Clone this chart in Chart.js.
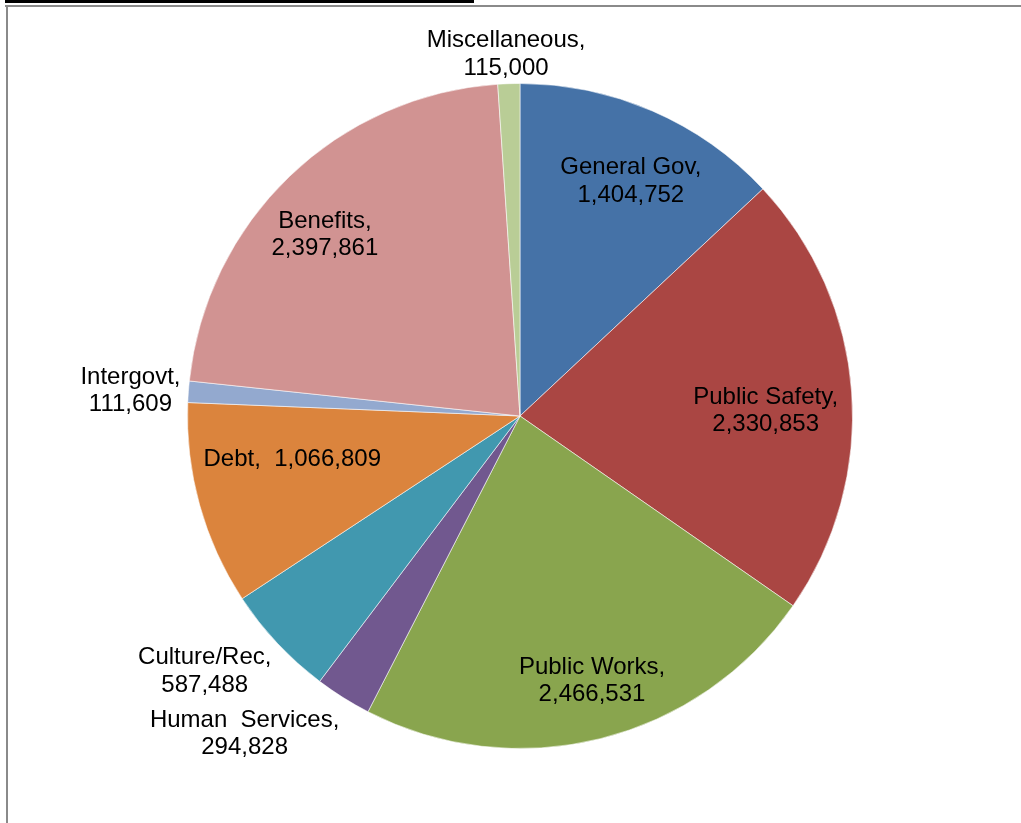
<!DOCTYPE html>
<html>
<head>
<meta charset="utf-8">
<script src="https://cdn.jsdelivr.net/npm/chart.js@4/dist/chart.umd.min.js"></script>
<style>
  html, body { margin: 0; padding: 0; background: #fff; }
  #wrap { position: relative; width: 1021px; height: 823px; overflow: hidden; }
  #topbar { position: absolute; left: 5px; top: 0; width: 469px; height: 3px; background: #000; }
  #frameTop { position: absolute; left: 5px; top: 5px; width: 1016px; height: 2px; background: #8a8a8a; }
  #frameLeft { position: absolute; left: 6px; top: 5px; width: 2px; height: 818px; background: #8a8a8a; }
  canvas { position: absolute; left: 0; top: 0; }
</style>
</head>
<body>
<div id="wrap">
  <canvas id="c" width="1021" height="823"></canvas>
  <div id="topbar"></div>
  <div id="frameTop"></div>
  <div id="frameLeft"></div>
</div>
<script>
// ---- data ----
const categories = ["General Gov", "Public Safety", "Public Works", "Human Services",
                    "Culture/Rec", "Debt", "Intergovt", "Benefits", "Miscellaneous"];
const values = [1404752, 2330853, 2466531, 294828, 587488, 1066809, 111609, 2397861, 115000];
const labelLines = [
  ["General Gov,", "1,404,752"],
  ["Public Safety,", "2,330,853"],
  ["Public Works,", "2,466,531"],
  ["Human  Services,", "294,828"],
  ["Culture/Rec,", "587,488"],
  ["Debt,  1,066,809"],
  ["Intergovt,", "111,609"],
  ["Benefits,", "2,397,861"],
  ["Miscellaneous,", "115,000"]
];

// ---- style / layout ----
const colors = ["#4572A7", "#AA4643", "#89A54E", "#71588F", "#4198AF",
                "#DB843D", "#93A9CF", "#D19392", "#B9CD96"];
// label placement: angle (deg, clockwise from 12 o'clock) and distance as fraction of radius
const labelAngle = [25.3, 88.8, 164.8, 220.9, 231.0, 259.3, 273.7, 312.9, 357.8];
const labelRadius = [0.78, 0.739, 0.826, 1.265, 1.220, 0.697, 1.174, 0.801, 1.089];

const labelPlugin = {
  id: 'sliceLabels',
  afterDatasetsDraw(chart) {
    const ctx = chart.ctx;
    const meta = chart.getDatasetMeta(0);
    ctx.save();
    ctx.font = '24px "Liberation Sans", Arial, sans-serif';
    ctx.fillStyle = '#000';
    ctx.textAlign = 'center';
    ctx.textBaseline = 'middle';
    const lh = 27.5;
    meta.data.forEach((arc, i) => {
      const th = labelAngle[i] * Math.PI / 180;
      const r = arc.outerRadius * labelRadius[i];
      const x = arc.x + r * Math.sin(th);
      const y = arc.y - r * Math.cos(th);
      const lines = labelLines[i];
      const y0 = y - (lines.length - 1) * lh / 2;
      lines.forEach((t, k) => ctx.fillText(t, x, y0 + k * lh));
    });
    ctx.restore();
  }
};

new Chart(document.getElementById('c'), {
  type: 'pie',
  data: {
    labels: categories,
    datasets: [{
      data: values,
      backgroundColor: colors,
      borderColor: 'rgba(255,255,255,0.55)',
      borderWidth: 1
    }]
  },
  options: {
    responsive: false,
    animation: false,
    devicePixelRatio: 1,
    layout: { padding: { left: 187, right: 168, top: 83, bottom: 74 } },
    plugins: {
      legend: { display: false },
      tooltip: { enabled: false },
      title: { display: false }
    }
  },
  plugins: [labelPlugin]
});
</script>
</body>
</html>
